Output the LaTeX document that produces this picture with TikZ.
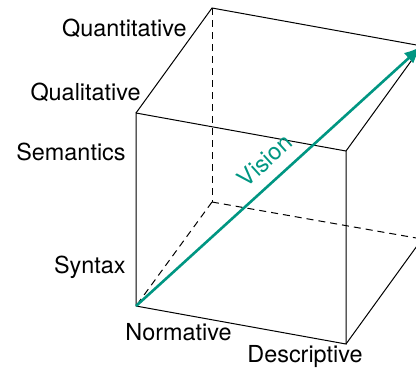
\documentclass[tikz,border=0pt]{standalone}
\usepackage{fontspec}
\setmainfont{TeX Gyre Heros}
\usetikzlibrary{arrows.meta}
\definecolor{kitgreen}{RGB}{0,150,130}
\begin{document}
\begin{tikzpicture}[x=0.5pt,y=-0.5pt,
  edge/.style={line width=0.5pt,black},
  hid/.style={edge,dash pattern=on 3.5pt off 2.5pt},
  lab/.style={font=\fontsize{11.7}{14}\selectfont,inner sep=0pt},
  vis/.style={line width=1.3pt,kitgreen,-{Latex[length=9pt,width=7pt]}}]
\useasboundingbox (0,0) rectangle (416,371);
\clip (0,0) rectangle (416,371);
\coordinate (A) at (136,306);
\coordinate (B) at (346,344);
\coordinate (C) at (346,151);
\coordinate (D) at (136,113);
\coordinate (E) at (212,8);
\coordinate (F) at (422,46);
\coordinate (H) at (212,202);
\coordinate (I) at (422,239);
% hidden edges
\draw[hid] (E) -- (H);
\draw[hid] (H) -- (A);
\draw[hid] (H) -- (I);
% visible edges
\draw[edge] (A) -- (B) -- (C) -- (D) -- cycle;
\draw[edge] (D) -- (E) -- (F) -- (C);
\draw[edge] (B) -- (I) -- (F);
% vision arrow
\draw[vis] (A) -- (F) node[pos=0.5,sloped,above=5.5pt,lab,text=kitgreen] (vision) {Vision};
% labels
\node[lab,anchor=base east] (quant) at (187,36) {Quantitative};
\node[lab,anchor=base east] (qual) at (141,100) {Qualitative};
\node[lab,anchor=base east] (sem) at (126,160) {Semantics};
\node[lab,anchor=base east] (syn) at (126,273) {Syntax};
\node[lab,anchor=base west] (norm) at (125,340) {Normative};
\node[lab,anchor=base west] (desc) at (247,362) {Descriptive};
\end{tikzpicture}
\end{document}
